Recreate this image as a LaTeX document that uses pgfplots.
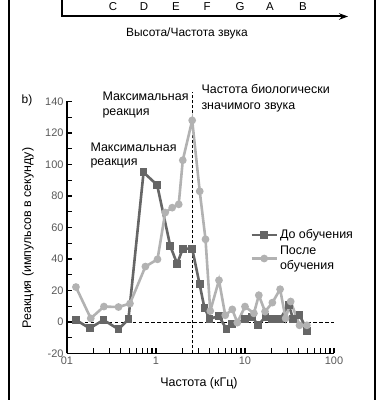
\documentclass[border=0pt]{standalone}
\usepackage{fontspec}
\setmainfont{Liberation Sans}
\usepackage{pgfplots}
\pgfplotsset{compat=1.18}
\usetikzlibrary{arrows.meta}
\definecolor{darkser}{gray}{0.40}
\definecolor{lightser}{gray}{0.70}
\definecolor{ticklab}{gray}{0.35}
\begin{document}
\begin{tikzpicture}
\useasboundingbox (0,0) rectangle (379bp,400bp);
% outer frame
\draw[line width=1.6bp] (9bp,0) -- (9bp,400bp);
\draw[line width=1.6bp] (375bp,0) -- (375bp,400bp);
% top panel (partial)
\draw[line width=2bp,-{Stealth[length=9bp,width=6.5bp]}] (62bp,400bp) -- (62bp,383.5bp) -- (348bp,383.5bp);
\foreach \x/\n in {113/C,144/D,176/E,207/F,240/G,270/A,303/B}
  \node[font=\fontsize{11.5}{13}\selectfont] at (\x bp,393bp) {\n};
\node[font=\fontsize{12}{13}\selectfont] at (187bp,367bp) {Высота/Частота звука};
% panel b
\node[font=\fontsize{12}{13}\selectfont] at (27bp,300bp) {b)};
\begin{axis}[
  at={(67bp,46.5bp)}, anchor=south west, scale only axis,
  width=267bp, height=252bp,
  xmode=log, xmin=0.1, xmax=100, ymin=-20, ymax=140,
  axis x line=bottom, axis y line=left,
  axis line style={line width=1.8bp,-},
  tick align=inside, major tick length=5bp, minor tick length=5bp,
  tick style={line width=1.3bp,black},
  xtick={0.1,1,10,100}, xticklabels={01,1,10,100},
  minor xtick={0.2,0.3,0.4,0.5,0.6,0.7,0.8,0.9,2,3,4,5,6,7,8,9,20,30,40,50,60,70,80,90},
  ytick={-20,0,20,40,60,80,100,120,140},
  minor ytick={-10,10,30,50,70,90,110,130},
  ticklabel style={font=\fontsize{11}{12}\selectfont, text=ticklab},
  /pgf/number format/assume math mode=true,
  clip=false,
  legend style={draw=none, fill=none, at={(0.675,0.508)}, anchor=north west,
    font=\fontsize{12.5}{14.5}\selectfont, cells={anchor=west, align=left}, row sep=2bp},
  legend image code/.code={\draw[mark repeat=2, mark phase=2] plot coordinates {(0bp,0bp) (12.5bp,0bp) (25bp,0bp)};},
]
\addplot[black, line width=0.8bp, dash pattern=on 3.5bp off 2.5bp, forget plot] coordinates {(0.1,0) (100,0)};
\addplot[black, line width=0.8bp, dash pattern=on 3bp off 2bp, forget plot] coordinates {(2.55,-20) (2.55,146)};
\addplot[darkser, line width=2.6bp, mark=square*, mark size=2.6bp] coordinates {
(0.126,1.3) (0.18,-4) (0.257,1.3) (0.379,-4.6) (0.49,1.7) (0.725,95) (1.03,87) (1.45,48) (1.73,37) (2.0,46.6) (2.55,46.6) (3.09,24) (3.5,9) (4.0,2) (5.1,3.8) (6.2,-4.6) (7.2,-1.5) (10,1.7) (12,3.4) (14,-2) (17,3.2) (20.3,1.7) (24.8,1.7) (31,11) (34.7,2) (41,4.4) (50,-5.5)};
\addlegendentry{До обучения}
\addplot[lightser, line width=2.6bp, mark=*, mark size=2.5bp] coordinates {
(0.126,22.2) (0.185,2.3) (0.26,9.8) (0.379,9.5) (0.51,11.7) (0.76,35.2) (1.04,39.8) (1.27,69.5) (1.52,72.6) (1.8,74.7) (2.0,102.7) (2.55,128) (3.1,83) (3.6,52.5) (4.07,7) (5.1,26.5) (6.0,4.3) (7.2,8) (8.2,-0.4) (10,9.8) (12.6,5.5) (14.3,17) (16.8,6.6) (20.3,12.3) (24.8,20.8) (28.6,2.3) (32.6,13) (41,-2.1) (49.6,-2.1)};
\addlegendentry{После\\обучения}
\end{axis}
% annotations
\node[font=\fontsize{12.5}{16}\selectfont, align=left, anchor=west] at (99bp,295bp) {Максимальная\\реакция};
\node[font=\fontsize{12.5}{15}\selectfont, align=left, anchor=west] at (87bp,244.5bp) {Максимальная\\реакция};
\node[font=\fontsize{12.5}{16}\selectfont, align=left, anchor=west] at (198bp,302bp) {Частота биологически\\значимого звука};
\node[font=\fontsize{12.5}{14}\selectfont, rotate=90] at (28bp,162bp) {Реакция (импульсов в секунду)};
\node[font=\fontsize{12.5}{14}\selectfont] at (199bp,17bp) {Частота (кГц)};
\end{tikzpicture}
\end{document}
